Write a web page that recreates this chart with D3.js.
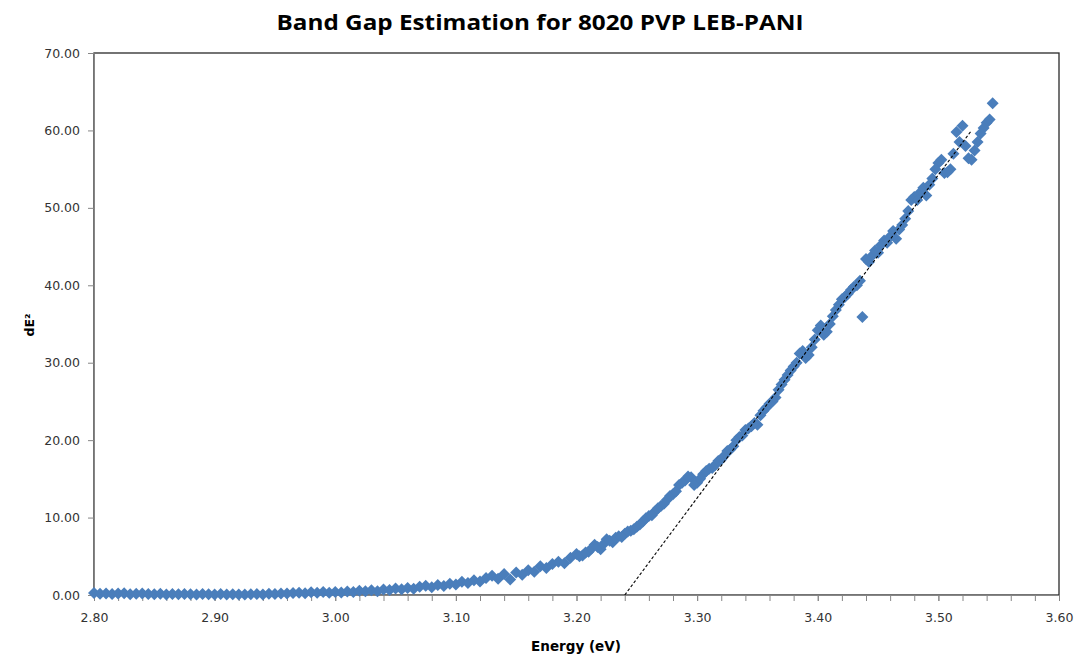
<!DOCTYPE html>
<html>
<head>
<meta charset="utf-8">
<script src="https://cdn.jsdelivr.net/npm/d3@7"></script>
<style>
  body { margin: 0; background: #fff; }
  svg { display: block; }
</style>
</head>
<body>
<svg id="chart" width="1077" height="655"></svg>
<script>
// values
const energy = [
  2.800, 2.805, 2.810, 2.815, 2.820, 2.825, 2.830, 2.835, 2.840, 2.845,
  2.850, 2.855, 2.860, 2.865, 2.870, 2.875, 2.880, 2.885, 2.890, 2.895,
  2.900, 2.905, 2.910, 2.915, 2.920, 2.925, 2.930, 2.935, 2.940, 2.945,
  2.950, 2.955, 2.960, 2.965, 2.970, 2.975, 2.980, 2.985, 2.990, 2.995,
  3.000, 3.005, 3.010, 3.015, 3.020, 3.025, 3.030, 3.035, 3.040, 3.045,
  3.050, 3.055, 3.060, 3.065, 3.070, 3.075, 3.080, 3.085, 3.090, 3.095,
  3.100, 3.105, 3.110, 3.115, 3.120, 3.125, 3.130, 3.135, 3.140, 3.145,
  3.150, 3.155, 3.160, 3.165, 3.170, 3.175, 3.180, 3.185, 3.190, 3.195,
  3.200, 3.205, 3.210, 3.215, 3.220, 3.225, 3.230, 3.235, 3.240, 3.245,
  3.250, 3.255, 3.260, 3.265, 3.270, 3.275, 3.280, 3.285, 3.290, 3.295,
  3.300, 3.305, 3.310, 3.315, 3.320, 3.325, 3.330, 3.335, 3.340, 3.345,
  3.350, 3.355, 3.360, 3.365, 3.370, 3.375, 3.380, 3.385, 3.390, 3.395,
  3.400, 3.405, 3.410, 3.415, 3.420, 3.425, 3.430, 3.435, 3.437, 3.440,
  3.445, 3.450, 3.455, 3.460, 3.465, 3.470, 3.475, 3.480, 3.485, 3.490,
  3.495, 3.500, 3.505, 3.510, 3.515, 3.520, 3.525, 3.530, 3.535, 3.540,
  3.545
]
const dE2 = [
  0.25, 0.15, 0.20, 0.12, 0.18, 0.22, 0.10, 0.15, 0.20, 0.12,
  0.10, 0.15, 0.08, 0.12, 0.10, 0.14, 0.10, 0.05, 0.12, 0.10,
  0.08, 0.12, 0.06, 0.10, 0.08, 0.05, 0.10, 0.12, 0.08, 0.15,
  0.12, 0.20, 0.18, 0.25, 0.30, 0.22, 0.35, 0.28, 0.40, 0.30,
  0.38, 0.32, 0.45, 0.40, 0.55, 0.48, 0.60, 0.50, 0.70, 0.65,
  0.85, 0.75, 0.90, 0.80, 1.05, 1.20, 1.00, 1.30, 1.15, 1.45,
  1.35, 1.70, 1.55, 1.90, 1.75, 2.20, 2.50, 2.10, 2.70, 2.00,
  2.90, 2.60, 3.20, 3.00, 3.70, 3.50, 4.00, 4.30, 4.10, 4.80,
  5.30, 5.10, 5.60, 6.50, 5.90, 7.20, 6.80, 7.60, 7.90, 8.30,
  8.80, 9.50, 10.2, 10.8, 11.5, 12.3, 13.0, 14.2, 14.8, 15.2,
  14.5, 15.6, 16.3, 16.8, 17.5, 18.6, 19.2, 20.4, 21.3, 21.8,
  22.0, 23.8, 24.7, 25.5, 27.2, 28.4, 29.5, 31.2, 30.6, 32.0,
  34.2, 33.6, 35.0, 36.8, 38.2, 38.9, 39.8, 40.6, 35.9, 43.4,
  43.8, 44.2, 45.8, 46.3, 46.0, 47.8, 49.6, 51.4, 52.0, 51.6,
  53.8, 55.8, 54.5, 55.0, 59.8, 60.6, 56.4, 57.4, 59.6, 61.0,
  63.5
]
// denser readings on the rising edge
const energyMid = [
  3.2025, 3.2075, 3.2125, 3.2175, 3.2225, 3.2275, 3.2325, 3.2375, 3.2425, 3.2475,
  3.2525, 3.2575, 3.2625, 3.2675, 3.2725, 3.2775, 3.2825, 3.2875, 3.2925, 3.2975,
  3.3025, 3.3075, 3.3125, 3.3175, 3.3225, 3.3275, 3.3325, 3.3375, 3.3425, 3.3475,
  3.3525, 3.3575, 3.3625, 3.3675, 3.3725, 3.3775, 3.3825, 3.3875, 3.3925, 3.3975,
  3.4025, 3.4075, 3.4125, 3.4175, 3.4225, 3.4275, 3.4325, 3.4425, 3.4475, 3.4525,
  3.4575, 3.4625, 3.4675, 3.4725, 3.4775, 3.4825, 3.4875, 3.4925, 3.4975, 3.5025,
  3.5075, 3.5125, 3.5175, 3.5225, 3.5275, 3.5325, 3.5375, 3.5425
]
const dE2Mid = [
  5.0, 5.5, 6.0, 6.2, 6.6, 7.0, 7.4, 7.5, 8.2, 8.5,
  9.1, 9.9, 10.3, 11.2, 11.8, 12.8, 13.4, 14.5, 15.3, 14.2,
  15.0, 16.0, 16.4, 17.3, 18.0, 18.8, 20.0, 20.6, 21.5, 22.2,
  23.2, 24.2, 25.0, 26.5, 27.8, 29.0, 30.0, 31.5, 31.0, 33.0,
  34.8, 34.0, 36.0, 37.5, 38.5, 39.4, 40.0, 43.0, 44.5, 45.2,
  45.5, 47.0, 47.2, 48.6, 51.0, 51.0, 52.6, 53.0, 55.0, 56.2,
  54.6, 57.0, 58.5, 58.0, 56.2, 58.5, 60.3, 61.4
]
// linear fit drawn as dashed line (start at the x-intercept)
const trendX = [3.24, 3.527]
const trendY = [0, 59.9]

const xTicks = [2.8, 2.9, 3.0, 3.1, 3.2, 3.3, 3.4, 3.5, 3.6]
const yTicks = [0, 10, 20, 30, 40, 50, 60, 70]

const points = energy.map((e, i) => ({x: e, y: dE2[i]}))
  .concat(energyMid.map((e, i) => ({x: e, y: dE2Mid[i]})))

const svg = d3.select('#chart')
const plotLeft = 94, plotRight = 1059, plotTop = 53, plotBottom = 595

const x = d3.scaleLinear().domain([2.8, 3.6]).range([plotLeft, plotRight])
const y = d3.scaleLinear().domain([0, 70]).range([plotBottom, plotTop])

// plot frame (top and right edges)
svg.append('rect')
.attr('x', plotLeft).attr('y', plotTop)
.attr('width', plotRight - plotLeft).attr('height', plotBottom - plotTop)
.attr('fill', 'none')
.attr('stroke', '#2a2a2a')
.attr('stroke-width', 1.3)

// minor x ticks
svg.append('g')
.attr('transform', `translate(0,${plotBottom})`)
.call(d3.axisBottom(x).tickValues(d3.range(0, 41).map(i => 2.8 + i * 0.02)).tickSize(6).tickFormat(''))
.call(g => g.select('.domain').remove())
.call(g => g.selectAll('line').attr('stroke', '#868686'))

// x axis
svg.append('g')
.attr('transform', `translate(0,${plotBottom})`)
.call(d3.axisBottom(x).tickValues(xTicks).tickSize(6).tickPadding(12).tickFormat(d3.format('.2f')))
.call(g => g.select('.domain').attr('stroke', '#868686'))
.call(g => g.selectAll('line').attr('stroke', '#868686'))
.call(g => g.selectAll('text')
  .attr('font-family', 'DejaVu Sans, Verdana, sans-serif')
  .attr('font-size', 12.5)
  .attr('fill', '#333'))

// y axis
svg.append('g')
.attr('transform', `translate(${plotLeft},0)`)
.call(d3.axisLeft(y).tickValues(yTicks).tickSize(6).tickPadding(8).tickFormat(d3.format('.2f')))
.call(g => g.select('.domain').attr('stroke', '#868686'))
.call(g => g.selectAll('line').attr('stroke', '#868686'))
.call(g => g.selectAll('text')
  .attr('font-family', 'DejaVu Sans, Verdana, sans-serif')
  .attr('font-size', 12.5)
  .attr('fill', '#333'))

// data points as diamonds
const r = 6
svg.append('g')
.attr('class', 'points')
.selectAll('path')
.data(points)
.enter()
.append('path')
.attr('d', `M0,${-r}L${r},0L0,${r}L${-r},0Z`)
.attr('transform', d => `translate(${x(d.x)},${y(d.y)})`)
.attr('fill', '#4a7ebb')

// trend line
svg.append('line')
.attr('x1', x(trendX[0])).attr('y1', y(trendY[0]))
.attr('x2', x(trendX[1])).attr('y2', y(trendY[1]))
.attr('stroke', '#000')
.attr('stroke-width', 1.1)
.attr('stroke-dasharray', '3,2')

// titles
svg.append('text')
.attr('x', 540).attr('y', 30)
.attr('text-anchor', 'middle')
.attr('font-family', 'Open Sans, sans-serif')
.attr('font-weight', 'bold')
.attr('font-size', 22)
.attr('textLength', 527)
.attr('lengthAdjust', 'spacingAndGlyphs')
.attr('fill', '#000')
.text('Band Gap Estimation for 8020 PVP LEB-PANI')

svg.append('text')
.attr('x', 576).attr('y', 651)
.attr('text-anchor', 'middle')
.attr('font-family', 'DejaVu Sans, Verdana, sans-serif')
.attr('font-weight', 'bold')
.attr('font-size', 13.5)
.attr('fill', '#000')
.text('Energy (eV)')

svg.append('text')
.attr('transform', 'translate(34,325) rotate(-90)')
.attr('text-anchor', 'middle')
.attr('font-family', 'DejaVu Sans, Verdana, sans-serif')
.attr('font-weight', 'bold')
.attr('font-size', 12.5)
.attr('fill', '#000')
.text('dE²')
</script>
</body>
</html>
